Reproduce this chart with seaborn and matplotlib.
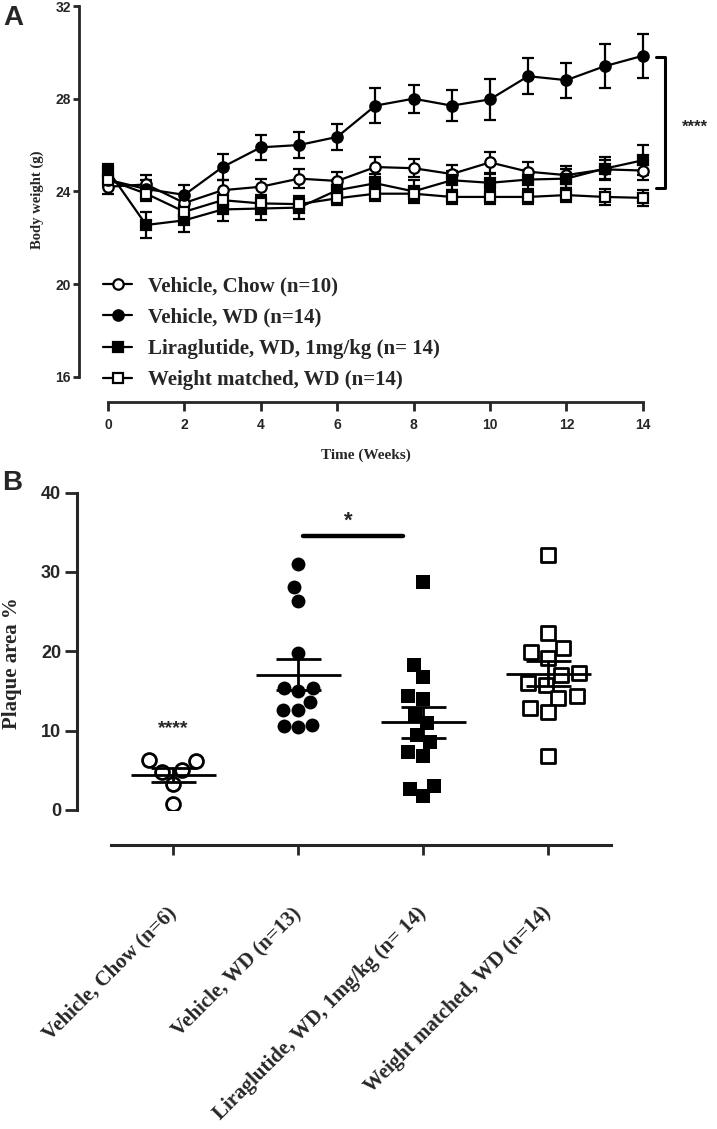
import numpy as np
import pandas as pd
import matplotlib
matplotlib.use('Agg')
import matplotlib.pyplot as plt
import seaborn as sns
from matplotlib.patches import Rectangle
from matplotlib.collections import PathCollection

# ---- panel A: body weight, mean +/- SEM per week
weeks = np.arange(15)
groups = ['Vehicle, Chow (n=10)', 'Vehicle, WD (n=14)',
          'Liraglutide, WD, 1mg/kg (n= 14)', 'Weight matched, WD (n=14)']
chow_mean = [24.2, 24.3, 23.5, 24.05, 24.2, 24.55, 24.45, 25.05, 25.0, 24.75, 25.25, 24.85, 24.7, 24.95, 24.9]
chow_sem = [0.3, 0.4, 0.4, 0.45, 0.35, 0.4, 0.4, 0.45, 0.4, 0.4, 0.45, 0.4, 0.4, 0.4, 0.4]
wd_mean = [24.5, 24.1, 23.85, 25.05, 25.9, 26.0, 26.35, 27.7, 28.0, 27.7, 27.97, 28.97, 28.8, 29.4, 29.85]
wd_sem = [0.3, 0.4, 0.42, 0.55, 0.55, 0.55, 0.55, 0.75, 0.6, 0.66, 0.87, 0.78, 0.75, 0.95, 0.95]
lira_mean = [24.9, 22.55, 22.75, 23.22, 23.26, 23.3, 24.05, 24.35, 24.0, 24.48, 24.37, 24.51, 24.55, 24.98, 25.34]
lira_sem = [0.3, 0.55, 0.5, 0.5, 0.5, 0.5, 0.45, 0.4, 0.5, 0.4, 0.4, 0.4, 0.4, 0.5, 0.65]
wm_mean = [24.5, 23.9, 23.12, 23.62, 23.48, 23.45, 23.7, 23.9, 23.9, 23.76, 23.76, 23.76, 23.84, 23.76, 23.72]
wm_sem = [0.3, 0.3, 0.3, 0.35, 0.3, 0.3, 0.3, 0.3, 0.3, 0.3, 0.3, 0.3, 0.3, 0.35, 0.33]

# ---- panel B: plaque area % per animal
cats = ['Vehicle, Chow (n=6)', 'Vehicle, WD (n=13)',
        'Liraglutide, WD, 1mg/kg (n= 14)', 'Weight matched, WD (n=14)']
chow_plaque = [6.2, 6.3, 4.8, 5.0, 3.2, 0.7]
wd_plaque = [31.0, 28.1, 26.4, 19.75, 15.35, 15.05, 15.35, 13.65, 12.6, 12.6, 10.7, 10.4, 10.6]
lira_plaque = [28.8, 18.3, 16.8, 14.4, 13.95, 12.0, 10.9, 9.5, 8.5, 7.3, 6.85, 3.0, 1.75, 2.65]
wm_plaque = [32.2, 22.3, 19.96, 20.4, 19.1, 17.0, 17.3, 15.75, 16.0, 14.3, 14.1, 12.9, 12.3, 6.85]

sns.set_style('ticks')
plt.rcParams['font.family'] = ['Liberation Sans', 'DejaVu Sans']
plt.rcParams['font.weight'] = 'bold'
plt.rcParams['axes.linewidth'] = 2
plt.rcParams['xtick.major.width'] = 2
plt.rcParams['ytick.major.width'] = 2

serif = dict(family=['Liberation Serif', 'DejaVu Serif'], weight='bold')

fig = plt.figure(figsize=(7.17, 11.29), dpi=100)
ax1 = fig.add_axes([79/717, 1-402/1129, 621/717, 396/1129])
ax2 = fig.add_axes([77/717, 1-845/1129, 583/717, 352.3/1129])

# ---------------- panel A
means = [chow_mean, wd_mean, lira_mean, wm_mean]
sems = [chow_sem, wd_sem, lira_sem, wm_sem]
markers = ['o', 'o', 's', 's']
faces = ['white', 'black', 'black', 'white']
for g, m, s, mk, fc in zip(groups, means, sems, markers, faces):
    ax1.errorbar(weeks, m, yerr=s, fmt='none', ecolor='black',
                 elinewidth=1.6, capsize=4.5, capthick=1.6, zorder=2)
    sns.lineplot(x=weeks, y=m, ax=ax1, color='black', linewidth=1.6,
                 marker=mk, markersize=7.5, markerfacecolor=fc,
                 markeredgecolor='black', markeredgewidth=1.6,
                 label=g, zorder=3)

ax1.set_xlim(-0.76, 15.5)
ax1.set_ylim(14.91, 32)
ax1.set_xticks(range(0, 15, 2))
ax1.set_yticks([16, 20, 24, 28, 32])
ax1.spines['left'].set_bounds(16, 32)
ax1.spines['bottom'].set_bounds(0, 14)
sns.despine(ax=ax1)
ax1.tick_params(axis='y', length=4, pad=2, labelsize=10)
ax1.tick_params(axis='x', length=6.5, pad=5, labelsize=10)
ax1.set_xlabel('')
ax1.set_ylabel('')

h, l = ax1.get_legend_handles_labels()
ax1.legend(h, l, loc='upper left', bbox_to_anchor=(0.0386, 0.318),
           frameon=False, borderaxespad=0, borderpad=0,
           handlelength=1.4, handletextpad=0.77, labelspacing=0.55,
           prop=dict(size=15, **serif))

# significance bracket
ax1.plot([14.35, 14.58, 14.58, 14.35], [29.78, 29.78, 24.14, 24.14],
         color='black', lw=2.2, clip_on=False)
ax1.text(15.37, 26.77, '****', ha='center', va='center', fontsize=12)

fig.text(37/717, 1-200/1129, 'Body weight (g)', rotation=90,
         ha='center', va='center', fontsize=10.5, **serif)
fig.text(366/717, 1-455/1129, 'Time (Weeks)', ha='center', va='center',
         fontsize=11, **serif)

# ---------------- panel B
plaque_vals = [chow_plaque, wd_plaque, lira_plaque, wm_plaque]
pmarkers = ['o', 'o', 's', 's']
psizes = [10, 10, 10.5, 10.5]
for i, (vals, mk, fc, sz) in enumerate(zip(plaque_vals, pmarkers, faces, psizes)):
    sub = pd.DataFrame({'group': cats[i], 'value': vals})
    lw = 2 if fc == 'white' else 0
    sns.swarmplot(data=sub, x='group', y='value', order=cats, marker=mk,
                  size=sz, color=fc, edgecolor='black', linewidth=lw,
                  ax=ax2, zorder=3)
    mean = np.mean(vals)
    se = np.std(vals, ddof=1) / np.sqrt(len(vals))
    ax2.hlines(mean, i - 0.34, i + 0.34, color='black', lw=2, zorder=4)
    ax2.vlines(i, mean - se, mean + se, color='black', lw=2, zorder=4)
    ax2.hlines([mean - se, mean + se], i - 0.18, i + 0.18, color='black',
               lw=2, zorder=4)

# the chow group is cut at y = 0 like in the original
clip = Rectangle((-1, 0), 6, 50, transform=ax2.transData)
for coll in ax2.collections:
    if isinstance(coll, PathCollection) and len(coll.get_offsets()) == len(chow_plaque):
        coll.set_clip_path(clip)

ax2.set_xlim(-0.768, 3.896)
ax2.set_ylim(-4.43, 40)
ax2.set_yticks([0, 10, 20, 30, 40])
ax2.spines['left'].set_bounds(0, 40)
ax2.spines['bottom'].set_bounds(-0.5, 3.5)
sns.despine(ax=ax2)
ax2.spines['left'].set_linewidth(2.2)
ax2.spines['bottom'].set_linewidth(2.2)
ax2.tick_params(axis='y', length=8.5, pad=3, labelsize=13)
ax2.tick_params(axis='x', length=7, pad=40)
ax2.set_xticks(range(4))
ax2.set_xticklabels(cats, rotation=45, ha='right', va='center',
                    rotation_mode='anchor', fontsize=15, **serif)
ax2.set_xlabel('')
ax2.set_ylabel('')

ax2.plot([1.04, 1.84], [34.5, 34.5], color='black', lw=3.2,
         solid_capstyle='round')
ax2.text(1.4, 36.4, '*', ha='center', va='center', fontsize=16)
ax2.text(0, 10.3, '****', ha='center', va='center', fontsize=14)

fig.text(12/717, 1-663/1129, 'Plaque area %', rotation=90, ha='center',
         va='center', fontsize=15, **serif)

fig.text(3/717, 1-25/1129, 'A', fontsize=20, weight='bold', va='baseline')
fig.text(2/717, 1-490/1129, 'B', fontsize=20, weight='bold', va='baseline')

fig.savefig('out.png', dpi=100)
